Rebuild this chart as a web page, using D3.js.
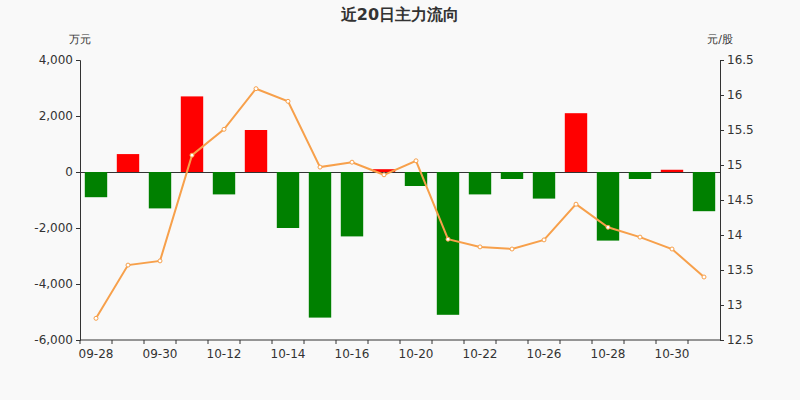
<!DOCTYPE html><html><head><meta charset="utf-8"><script src="https://cdn.jsdelivr.net/npm/d3@7"></script>
<style>body{margin:0;background:#f9f9f9}text{font-family:"DejaVu Sans",sans-serif}</style></head><body><svg id="c" width="800" height="400"></svg>
<script>
const dates=["09-28","09-29","09-30","10-09","10-12","10-13","10-14","10-15","10-16","10-19","10-20","10-21","10-22","10-23","10-26","10-27","10-28","10-29","10-30","11-02"];
const flows=[-900,640,-1300,2700,-800,1500,-2000,-5200,-2300,100,-500,-5100,-800,-250,-950,2100,-2450,-250,80,-1400];
const prices=[12.81,13.57,13.63,15.14,15.51,16.09,15.91,14.97,15.04,14.86,15.06,13.94,13.83,13.80,13.93,14.44,14.11,13.97,13.80,13.40];
const leftTicks=[-6000,-4000,-2000,0,2000,4000];
const rightTicks=[12.5,13,13.5,14,14.5,15,15.5,16,16.5];
const svg=d3.select("#c");
svg.append("rect").attr("width",800).attr("height",400).attr("fill","#f9f9f9");
const x=d3.scaleBand().domain(dates).range([80,720]).paddingInner(0.3).paddingOuter(0.15);
const xp=d=>x(d)+x.bandwidth()/2;
const y=d3.scaleLinear().domain([-6000,4000]).range([340,60]);
const y2=d3.scaleLinear().domain([12.5,16.5]).range([340,60]);
svg.append("text").attr("x",400).attr("y",20).attr("text-anchor","middle").attr("font-size",16).attr("font-weight","bold").attr("fill","#333").text("近20日主力流向");
svg.append("text").attr("x",80).attr("y",43).attr("text-anchor","middle").attr("font-size",11).attr("fill","#333").text("万元");
svg.append("text").attr("x",720).attr("y",43).attr("text-anchor","middle").attr("font-size",11).attr("fill","#333").text("元/股");
const fmt=d=>d3.format(",")(d).replace("−","-");
const la=svg.append("g").attr("transform","translate(80,0)").call(d3.axisLeft(y).tickValues(leftTicks).tickFormat(fmt).tickSize(4));
const ra=svg.append("g").attr("transform","translate(720,0)").call(d3.axisRight(y2).tickValues(rightTicks).tickFormat(d=>d).tickSize(4));
const xa=svg.append("g").attr("transform","translate(0,"+y(0)+")").call(d3.axisBottom(x).tickValues([]).tickSize(0).tickSizeOuter(0));
[la,ra,xa].forEach(a=>{a.selectAll("path,line").attr("stroke","#333");a.selectAll("text").attr("fill","#333").attr("font-size",12);});
const xl=svg.append("g");
dates.forEach((d,i)=>{
  xl.append("line").attr("x1",x(d)-x.step()*0.15).attr("x2",x(d)-x.step()*0.15).attr("y1",340).attr("y2",344).attr("stroke","#333");
  if(i%2==0)xl.append("text").attr("x",xp(d)).attr("y",358).attr("text-anchor","middle").attr("font-size",12).attr("fill","#333").text(d);
});
svg.append("line").attr("x1",80).attr("x2",720).attr("y1",340).attr("y2",340).attr("stroke","#333");
svg.selectAll(".b").data(flows).enter().append("rect").attr("x",(d,i)=>x(dates[i])).attr("width",x.bandwidth())
 .attr("y",d=>y(Math.max(d,0))).attr("height",d=>Math.abs(y(d)-y(0))).attr("fill",d=>d>=0?"#ff0000":"#008000");
svg.append("path").datum(prices).attr("fill","none").attr("stroke","#f7a04b").attr("stroke-width",2)
 .attr("d",d3.line().x((d,i)=>xp(dates[i])).y(d=>y2(d)));
svg.selectAll(".p").data(prices).enter().append("circle").attr("cx",(d,i)=>xp(dates[i])).attr("cy",d=>y2(d)).attr("r",2).attr("fill","#fff").attr("stroke","#f7a04b");
</script></body></html>
